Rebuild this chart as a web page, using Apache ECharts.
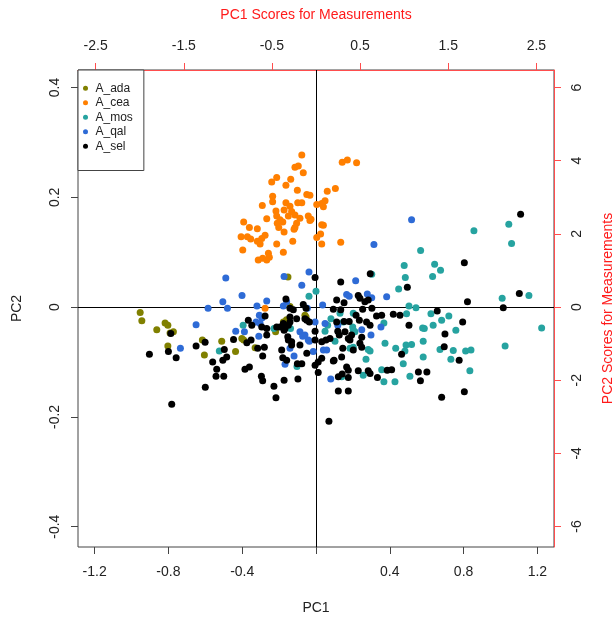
<!DOCTYPE html>
<html>
<head>
<meta charset="utf-8">
<script src="https://cdn.jsdelivr.net/npm/echarts@6/dist/echarts.min.js"></script>
<style>html,body{margin:0;padding:0;background:#fff;}#c{width:614px;height:617px;}</style>
</head>
<body>
<div id="c"></div>
<script>
// Group names (legend)
const groups = ['A_ada', 'A_cea', 'A_mos', 'A_qal', 'A_sel'];
const colors = ['#808000', '#FF7F00', '#26A3A0', '#2E6BD6', '#000000'];

// Tick labels
const pc1Ticks = [-1.2, -0.8, -0.4, 0, 0.4, 0.8, 1.2];
const pc1Labels = [-1.2, -0.8, -0.4, 0.4, 0.8, 1.2];
const pc2Ticks = [-0.4, -0.2, 0, 0.2, 0.4];
const topTicks = [-2.5, -1.5, -0.5, 0.5, 1.5, 2.5];
const rightTicks = [-6, -4, -2, 0, 2, 4, 6];

// PC1 / PC2 scores per group
const ada = [[-0.953,-0.010],[-0.944,-0.025],[-0.863,-0.041],[-0.818,-0.029],[-0.803,-0.033],[-0.791,-0.047],[-0.773,-0.045],[-0.803,-0.071],[-0.616,-0.060],[-0.605,-0.087],[-0.511,-0.062],[-0.436,-0.081],[-0.402,-0.057],[-0.392,-0.060],[-0.330,-0.074],[-0.219,-0.045],[-0.177,-0.027],[-0.160,-0.023],[-0.152,0.055],[-0.141,0.001],[-0.060,-0.015],[-0.054,-0.018]];

const cea = [[-0.077,0.277],[-0.114,0.255],[-0.096,0.257],[-0.069,0.245],[-0.213,0.236],[-0.240,0.228],[-0.137,0.233],[-0.163,0.222],[-0.101,0.213],[-0.235,0.202],[-0.050,0.205],[-0.033,0.204],[-0.235,0.192],[-0.291,0.185],[-0.163,0.190],[-0.141,0.184],[-0.099,0.190],[-0.077,0.190],[-0.217,0.175],[-0.173,0.177],[-0.132,0.174],[-0.114,0.168],[-0.150,0.166],[-0.087,0.162],[-0.105,0.153],[-0.213,0.166],[-0.195,0.159],[-0.180,0.155],[-0.210,0.153],[-0.267,0.161],[-0.392,0.155],[-0.361,0.145],[-0.318,0.143],[-0.202,0.145],[-0.173,0.137],[-0.114,0.145],[-0.119,0.142],[-0.042,0.166],[-0.027,0.160],[-0.033,0.158],[0.004,0.187],[0.031,0.189],[0.049,0.194],[0.040,0.183],[0.061,0.211],[0.105,0.216],[0.142,0.264],[0.170,0.268],[0.220,0.263],[-0.406,0.128],[-0.372,0.128],[-0.354,0.124],[-0.276,0.131],[-0.294,0.125],[-0.318,0.120],[-0.303,0.115],[-0.126,0.120],[-0.213,0.115],[-0.397,0.104],[-0.258,0.098],[-0.253,0.091],[-0.177,0.100],[-0.313,0.086],[-0.289,0.089],[0.031,0.150],[0.040,0.149],[0.025,0.133],[0.004,0.127],[0.031,0.115],[0.134,0.118],[-0.276,-0.002],[-0.267,0.086]];

const mos = [[1.045,0.151],[1.060,0.116],[0.856,0.139],[0.567,0.103],[0.478,0.076],[0.484,0.054],[0.643,0.078],[0.675,0.067],[0.632,0.056],[0.448,0.033],[1.009,0.016],[1.154,0.021],[0.504,0.002],[0.542,-0.001],[0.491,-0.012],[0.623,-0.012],[0.720,-0.016],[0.681,-0.024],[0.635,-0.033],[0.578,-0.038],[0.587,-0.039],[1.223,-0.038],[0.758,-0.042],[1.025,-0.071],[0.581,-0.062],[0.672,-0.077],[0.744,-0.079],[0.811,-0.080],[0.840,-0.078],[0.581,-0.091],[0.731,-0.095],[0.834,-0.116],[0.302,0.060],[-0.038,0.020],[0.000,0.029],[0.202,-0.011],[0.081,-0.021],[0.130,-0.011],[0.148,-0.027],[0.199,-0.036],[0.202,-0.042],[0.211,-0.045],[0.368,-0.029],[0.103,-0.062],[0.374,-0.066],[0.432,-0.075],[0.488,-0.069],[0.518,-0.068],[0.482,-0.080],[0.184,-0.075],[0.202,-0.073],[0.271,-0.095],[0.283,-0.077],[0.293,-0.080],[0.139,-0.127],[0.256,-0.124],[0.356,-0.114],[0.509,-0.126],[0.473,-0.103],[0.368,-0.136],[0.428,-0.136],[-0.103,-0.108],[-0.395,-0.033],[-0.524,-0.080],[-0.228,-0.039],[-0.138,-0.039],[0.049,-0.044],[0.063,-0.033]];

const qal = [[0.518,0.159],[0.314,0.114],[0.383,0.019],[0.278,0.024],[0.302,0.017],[-0.038,0.064],[0.215,0.048],[0.166,0.023],[0.180,0.020],[0.036,0.004],[-0.077,0.040],[-0.005,-0.027],[0.049,-0.030],[0.118,-0.033],[0.248,-0.041],[0.352,-0.036],[0.298,-0.051],[-0.042,-0.060],[-0.060,-0.051],[0.040,-0.078],[-0.015,-0.081],[0.080,-0.131],[-0.168,-0.104],[-0.489,0.053],[-0.173,0.056],[-0.401,0.021],[-0.505,0.010],[-0.585,-0.002],[-0.480,-0.002],[-0.320,0.002],[-0.267,0.011],[-0.177,0.002],[-0.159,0.010],[-0.650,-0.032],[-0.735,-0.075],[-0.435,-0.044],[-0.325,-0.027],[-0.303,-0.030],[-0.307,-0.015],[-0.388,-0.045],[-0.310,-0.053],[-0.087,-0.045],[-0.072,-0.053],[-0.036,-0.062],[-0.141,-0.075],[-0.119,-0.089],[-0.047,-0.002],[0.058,-0.078],[-0.293,-0.020]];

const sel = [[1.109,0.169],[0.804,0.081],[0.294,0.061],[0.495,0.036],[1.102,0.025],[0.821,0.010],[1.015,-0.001],[0.657,-0.007],[0.419,-0.013],[0.455,-0.015],[0.229,0.021],[0.238,0.016],[0.265,0.010],[0.283,0.013],[0.253,-0.004],[0.303,-0.002],[0.328,-0.016],[0.356,-0.015],[0.504,-0.033],[0.795,-0.027],[0.274,-0.027],[0.293,-0.033],[-0.005,0.054],[0.134,0.046],[0.112,0.013],[0.152,0.008],[-0.069,0.005],[-0.054,-0.002],[0.134,-0.005],[0.094,-0.004],[0.217,-0.015],[0.235,-0.024],[0.152,-0.026],[0.180,-0.026],[0.112,-0.027],[-0.050,-0.024],[-0.036,-0.027],[0.699,-0.049],[-0.005,-0.044],[0.118,-0.044],[0.126,-0.051],[0.157,-0.045],[0.193,-0.051],[0.175,-0.057],[0.184,-0.060],[0.248,-0.055],[0.031,-0.063],[0.054,-0.060],[0.076,-0.057],[0.145,-0.075],[0.202,-0.078],[0.238,-0.066],[0.248,-0.073],[0.464,-0.086],[0.695,-0.072],[0.776,-0.097],[0.031,-0.093],[0.098,-0.097],[0.139,-0.091],[-0.005,-0.106],[0.012,-0.119],[-0.077,-0.103],[0.166,-0.109],[0.175,-0.115],[0.229,-0.116],[0.283,-0.116],[0.293,-0.121],[0.386,-0.115],[0.410,-0.114],[0.333,-0.128],[0.555,-0.118],[0.601,-0.118],[0.566,-0.134],[0.121,-0.127],[0.175,-0.128],[0.094,-0.098],[0.121,-0.153],[0.175,-0.153],[0.142,-0.122],[0.070,-0.208],[0.681,-0.164],[0.804,-0.154],[-0.098,-0.131],[-0.101,-0.103],[-0.782,-0.177],[-0.600,-0.146],[-0.542,-0.126],[-0.500,-0.126],[-0.538,-0.113],[-0.560,-0.100],[-0.505,-0.097],[-0.484,-0.091],[-0.497,-0.077],[-0.385,-0.113],[-0.361,-0.109],[-0.296,-0.126],[-0.289,-0.134],[-0.228,-0.144],[-0.217,-0.165],[-0.173,-0.133],[-0.903,-0.086],[-0.787,-0.048],[-0.800,-0.081],[-0.758,-0.092],[-0.650,-0.071],[-0.601,-0.064],[-0.447,-0.059],[-0.316,-0.075],[-0.289,-0.089],[-0.280,-0.073],[-0.163,0.015],[-0.141,-0.002],[-0.123,-0.005],[-0.276,-0.016],[-0.367,-0.024],[-0.348,-0.033],[-0.294,-0.036],[-0.267,-0.039],[-0.213,-0.036],[-0.195,-0.036],[-0.177,-0.030],[-0.168,-0.039],[-0.141,-0.018],[-0.141,-0.027],[-0.150,-0.033],[-0.173,-0.042],[-0.105,-0.021],[-0.060,-0.021],[-0.005,-0.060],[-0.267,-0.051],[-0.352,-0.060],[-0.375,-0.065],[-0.150,-0.060],[-0.132,-0.063],[-0.153,-0.054],[-0.186,-0.078],[-0.180,-0.092],[-0.159,-0.097],[-0.132,-0.069],[-0.087,-0.069],[-0.050,-0.084],[0.012,-0.100]];

const groupData = [ada, cea, mos, qal, sel];

const FONT = '"Liberation Sans", Arial, sans-serif';
const RED = '#ff4d4d';
const BOX = '#444';

const chart = echarts.init(document.getElementById('c'), null, {renderer: 'canvas'});

const series = groups.map((g, i) => ({
  name: g,
  type: 'scatter',
  xAxisIndex: 0,
  yAxisIndex: 0,
  data: groupData[i],
  symbol: 'circle',
  symbolSize: 7,
  itemStyle: {color: colors[i], opacity: 1},
  emphasis: {disabled: true},
  z: 3
}));
series[0].markLine = {
  silent: true,
  symbol: ['none', 'none'],
  label: {show: false},
  lineStyle: {color: '#000', type: 'solid', width: 1},
  data: [{yAxis: 0}, {xAxis: 0}],
  z: 1
};
series.push({type: 'scatter', xAxisIndex: 1, yAxisIndex: 1, data: [], silent: true});

const option = {
  animation: false,
  backgroundColor: '#fff',
  textStyle: {fontFamily: FONT},
  grid: {left: 78, right: 60, top: 70, bottom: 70, show: true, borderColor: BOX, borderWidth: 1, backgroundColor: 'transparent', outerBoundsMode: 'none', containLabel: false},
  legend: {
    orient: 'vertical',
    left: 78, top: 70,
    padding: [12, 11, 18, 5],
    itemWidth: 10, itemHeight: 5, itemGap: 2,
    icon: 'circle',
    borderColor: BOX, borderWidth: 1,
    backgroundColor: '#fff',
    selectedMode: false,
    data: groups,
    textStyle: {fontFamily: FONT, fontSize: 12, color: '#222', lineHeight: 12.5}
  },
  xAxis: [
    {
      type: 'value', position: 'bottom', min: -1.29, max: 1.29,
      name: 'PC1', nameLocation: 'middle', nameGap: 54,
      nameTextStyle: {fontFamily: FONT, fontSize: 14, color: '#222'},
      axisLine: {show: false, onZero: false},
      axisTick: {show: true, length: 7, lineStyle: {color: BOX}, customValues: pc1Ticks},
      axisLabel: {fontFamily: FONT, fontSize: 14, color: '#222', margin: 18, customValues: pc1Labels},
      splitLine: {show: false}
    },
    {
      type: 'value', position: 'top', min: -2.70, max: 2.70,
      name: 'PC1 Scores for Measurements', nameLocation: 'middle', nameGap: 48,
      nameTextStyle: {fontFamily: FONT, fontSize: 14, color: '#ff1a1a'},
      axisLine: {show: true, onZero: false, lineStyle: {color: RED, width: 1}},
      axisTick: {show: true, length: 7, lineStyle: {color: RED}, customValues: topTicks},
      axisLabel: {fontFamily: FONT, fontSize: 14, color: '#222', margin: 17, customValues: topTicks},
      splitLine: {show: false}
    }
  ],
  yAxis: [
    {
      type: 'value', position: 'left', min: -0.437, max: 0.432,
      name: 'PC2', nameLocation: 'middle', nameGap: 54,
      nameTextStyle: {fontFamily: FONT, fontSize: 14, color: '#222'},
      axisLine: {show: false, onZero: false},
      axisTick: {show: true, length: 7, lineStyle: {color: BOX}, customValues: pc2Ticks},
      axisLabel: {fontFamily: FONT, fontSize: 14, color: '#222', margin: 16, rotate: 90, customValues: pc2Ticks},
      splitLine: {show: false}
    },
    {
      type: 'value', position: 'right', min: -6.56, max: 6.48,
      name: 'PC2 Scores for Measurements', nameLocation: 'middle', nameGap: 47,
      nameRotate: 90,
      nameTextStyle: {fontFamily: FONT, fontSize: 14, color: '#ff1a1a'},
      axisLine: {show: true, onZero: false, lineStyle: {color: RED, width: 1}},
      axisTick: {show: true, length: 7, lineStyle: {color: RED}, customValues: rightTicks},
      axisLabel: {fontFamily: FONT, fontSize: 14, color: '#222', margin: 16, rotate: 90, customValues: rightTicks},
      splitLine: {show: false}
    }
  ],
  series: series
};
chart.setOption(option);
</script>
</body>
</html>
